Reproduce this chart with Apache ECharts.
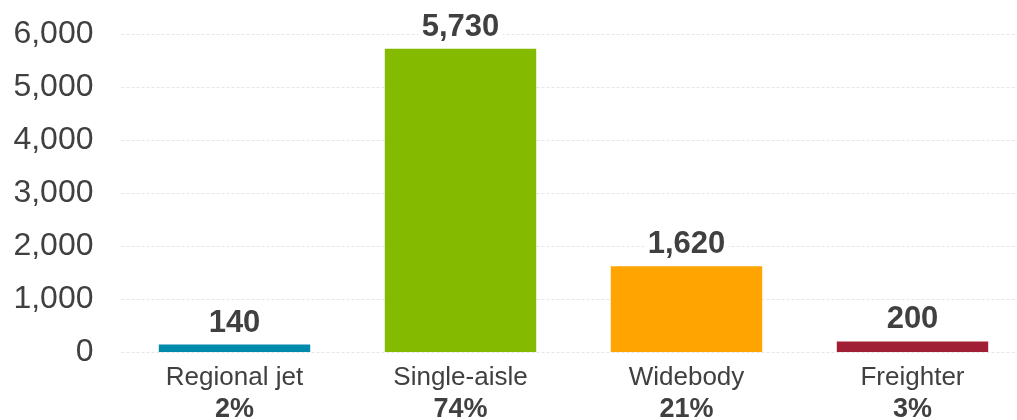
<!DOCTYPE html>
<html>
<head>
<meta charset="utf-8">
<script src="https://cdn.jsdelivr.net/npm/echarts@6/dist/echarts.min.js"></script>
<style>
html,body{margin:0;padding:0;background:#fff;overflow:hidden;}
#chart{width:1017px;height:420px;}
</style>
</head>
<body>
<div id="chart"></div>
<script>
const categories = ['Regional jet', 'Single-aisle', 'Widebody', 'Freighter'];
const deliveries = [140, 5730, 1620, 200];
const shares = ['2%', '74%', '21%', '3%'];
const yTicks = [0, 1000, 2000, 3000, 4000, 5000, 6000];

const palette = ['#008AAB', '#84BB00', '#FFA400', '#A11F35'];
const textColor = '#404040';
const fmt = v => Number(v).toLocaleString('en-US');

const chart = echarts.init(document.getElementById('chart'), null, {renderer: 'canvas'});
chart.setOption({
  animation: false,
  grid: {left: 121.5, right: -8.5, top: 34.5, bottom: 68, containLabel: false, outerBoundsMode: 'none'},
  xAxis: {
    type: 'category',
    data: categories,
    axisLine: {show: false},
    axisTick: {show: false},
    axisLabel: {
      margin: 11,
      interval: 0,
      formatter: (v, i) => '{n|' + v + '}\n{p|' + shares[i] + '}',
      rich: {
        n: {fontFamily: 'Liberation Sans, Arial, sans-serif', fontSize: 26, color: textColor, lineHeight: 30},
        p: {fontFamily: 'Liberation Sans, Arial, sans-serif', fontSize: 27, fontWeight: 'bold', color: textColor, lineHeight: 34}
      }
    }
  },
  yAxis: {
    type: 'value',
    min: yTicks[0],
    max: yTicks[yTicks.length - 1],
    interval: yTicks[1] - yTicks[0],
    axisLine: {show: false},
    axisTick: {show: false},
    axisLabel: {
      margin: 28,
      fontFamily: 'Liberation Sans, Arial, sans-serif',
      fontSize: 32,
      color: textColor,
      formatter: fmt
    },
    splitLine: {lineStyle: {color: '#e6e6e6', type: [3, 2], width: 1}}
  },
  series: [{
    type: 'bar',
    barWidth: '67%',
    data: deliveries.map((v, i) => ({value: v, itemStyle: {color: palette[i]}})),
    label: {
      show: true,
      position: 'top',
      distance: 6,
      fontFamily: 'Liberation Sans, Arial, sans-serif',
      fontSize: 31,
      fontWeight: 'bold',
      color: textColor,
      backgroundColor: '#fff',
      padding: [0, 3, 0, 3],
      formatter: p => fmt(p.value)
    }
  }]
});
</script>
</body>
</html>
